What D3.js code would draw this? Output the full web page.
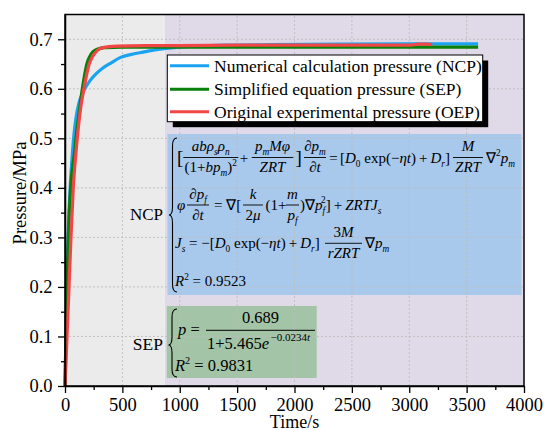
<!DOCTYPE html>
<html><head><meta charset="utf-8">
<script src="https://cdn.jsdelivr.net/npm/d3@7"></script>
<style>body{margin:0;background:#fff}svg{display:block}</style>
</head><body>
<svg id="c" width="544" height="430"></svg>
<script>
// ---- data ----
const ncpT = [0, 8, 18, 30, 45, 60, 75, 95, 120, 150, 180, 220, 270, 330, 400, 480, 570, 680, 800, 950, 1150, 1400, 1800, 2400, 3000, 3600];
const ncpP = [0, 0.10, 0.22, 0.32, 0.40, 0.455, 0.50, 0.54, 0.57, 0.59, 0.603, 0.617, 0.630, 0.642, 0.652, 0.663, 0.669, 0.674, 0.679, 0.683, 0.686, 0.688, 0.689, 0.690, 0.6905, 0.6905];
const sepT = [0, 17, 29, 49, 65, 83, 100, 122, 151, 170, 190, 215, 245, 280, 350, 500, 1000, 2000, 3000, 3600];
const sepP = [0, 0.20, 0.30, 0.40, 0.44, 0.47, 0.51, 0.55, 0.60, 0.627, 0.650, 0.665, 0.675, 0.680, 0.683, 0.684, 0.684, 0.684, 0.684, 0.684];
const oepT = [0, 35, 52, 72, 95, 120, 140, 165, 190, 211, 240, 280, 330, 450, 700, 1000, 1500, 2000, 2500, 3000, 3080, 3150, 3200];
const oepP = [0, 0.20, 0.30, 0.40, 0.47, 0.53, 0.567, 0.600, 0.630, 0.650, 0.665, 0.677, 0.683, 0.686, 0.687, 0.687, 0.688, 0.688, 0.688, 0.688, 0.690, 0.690, 0.689];
const xTicks = [0, 500, 1000, 1500, 2000, 2500, 3000, 3500, 4000];
const yTicks = [0.0, 0.1, 0.2, 0.3, 0.4, 0.5, 0.6, 0.7];
const xMinor = [250, 750, 1250, 1750, 2250, 2750, 3250, 3750];
const yMinor = [0.05, 0.15, 0.25, 0.35, 0.45, 0.55, 0.65];
const regionSplit = 870;
const seriesNames = ["Numerical calculation pressure (NCP)", "Simplified equation pressure (SEP)", "Original experimental pressure (OEP)"];
const seriesColors = ["#1aa3f0", "#0a800a", "#f24646"];

const FONT = "'Liberation Serif','Times New Roman',serif";
const svg = d3.select("#c");
const x = d3.scaleLinear().domain([0, 4000]).range([65, 524]);
const y = d3.scaleLinear().domain([0, 0.75]).range([386, 14.5]);

// backgrounds
svg.append("rect").attr("x", x(0)).attr("y", y(0.75)).attr("width", x(regionSplit) - x(0)).attr("height", y(0) - y(0.75)).attr("fill", "#ebebeb");
svg.append("rect").attr("x", x(regionSplit)).attr("y", y(0.75)).attr("width", x(4000) - x(regionSplit)).attr("height", y(0) - y(0.75)).attr("fill", "#e0d9e8");

// equation boxes
svg.append("rect").attr("x", 167.5).attr("y", 134).attr("width", 354).attr("height", 161).attr("fill", "#a8c8ec");
svg.append("rect").attr("x", 166.7).attr("y", 306).attr("width", 150).attr("height", 72).attr("fill", "#a3c4a6");

// grid
const grid = svg.append("g").attr("stroke", "#bdbdbd").attr("stroke-width", 0.9).attr("stroke-dasharray", "2,2");
xTicks.filter(t => t > 0 && t < 4000).forEach(t => grid.append("line").attr("x1", x(t)).attr("x2", x(t)).attr("y1", y(0)).attr("y2", y(0.75)));
yTicks.filter(t => t > 0).forEach(t => grid.append("line").attr("x1", x(0)).attr("x2", x(4000)).attr("y1", y(t)).attr("y2", y(t)));

// curves
const line = d3.line().x(d => x(d[0])).y(d => y(d[1])).curve(d3.curveMonotoneX);
const series = [[ncpT, ncpP], [sepT, sepP], [oepT, oepP]];
series.forEach((s, i) => {
  const pts = s[0].map((t, j) => [t, s[1][j]]);
  svg.append("path").attr("d", line(pts)).attr("fill", "none").attr("stroke", seriesColors[i]).attr("stroke-width", 3.2).attr("stroke-linejoin", "round");
});

// frame
svg.append("rect").attr("x", x(0)).attr("y", y(0.75)).attr("width", x(4000) - x(0)).attr("height", y(0) - y(0.75)).attr("fill", "none").attr("stroke", "#000").attr("stroke-width", 1.5);

// axes
function styleAxis(g) {
  g.selectAll("path").attr("stroke", "#000").attr("stroke-width", 1.5);
  g.selectAll("line").attr("stroke", "#000").attr("stroke-width", 1.3);
  g.selectAll("text").attr("font-family", FONT).attr("font-size", "18.5px").attr("fill", "#000");
}
const gx = svg.append("g").attr("transform", `translate(0,${y(0)})`)
  .call(d3.axisBottom(x).tickValues(xTicks).tickFormat(d3.format("d")).tickSize(7).tickSizeOuter(0).tickPadding(5));
styleAxis(gx);
const gxm = svg.append("g").attr("transform", `translate(0,${y(0)})`)
  .call(d3.axisBottom(x).tickValues(xMinor).tickFormat("").tickSize(4));
gxm.select(".domain").remove(); styleAxis(gxm);
const gy = svg.append("g").attr("transform", `translate(${x(0)},0)`)
  .call(d3.axisLeft(y).tickValues(yTicks).tickFormat(d3.format(".1f")).tickSize(7).tickSizeOuter(0).tickPadding(5.5));
styleAxis(gy);
const gym = svg.append("g").attr("transform", `translate(${x(0)},0)`)
  .call(d3.axisLeft(y).tickValues(yMinor).tickFormat("").tickSize(4));
gym.select(".domain").remove(); styleAxis(gym);

// axis titles
svg.append("text").attr("x", (x(0) + x(4000)) / 2).attr("y", 427.5).attr("text-anchor", "middle")
  .attr("font-family", FONT).attr("font-size", "18px").text("Time/s");
svg.append("text").attr("transform", "translate(26,193) rotate(-90)").attr("text-anchor", "middle")
  .attr("font-family", FONT).attr("font-size", "18.5px").text("Pressure/MPa");

// legend
const lg = svg.append("g");
lg.append("rect").attr("x", 172.8).attr("y", 60.5).attr("width", 315.4).attr("height", 66.7).attr("fill", "#000");
lg.append("rect").attr("x", 167.3).attr("y", 55).attr("width", 315.4).attr("height", 66.7).attr("fill", "#fff").attr("stroke", "#000").attr("stroke-width", 1);
const rowY = [65.7, 89.3, 111.7];
seriesNames.forEach((n, i) => {
  lg.append("line").attr("x1", 170).attr("x2", 209).attr("y1", rowY[i]).attr("y2", rowY[i]).attr("stroke", seriesColors[i]).attr("stroke-width", 3);
  lg.append("text").attr("x", 214).attr("y", rowY[i] + 6).attr("font-family", FONT).attr("font-size", "17.5px").text(n);
});

// ---- equations ----
const eq = svg.append("g").attr("fill", "#000");
function rich(g, xx, yy, parts, size, anchor) {
  const t = g.append("text").attr("x", xx).attr("y", yy).attr("font-size", size + "px")
    .attr("text-anchor", anchor || "start").attr("font-family", FONT).attr("xml:space", "preserve");
  let cur = 0;
  parts.forEach(p => {
    const txt = p[0], st = p[1], dx = p[2] || 0;
    let off = 0, fs = size;
    if (st.includes("_")) { off = size * 0.28; fs = size * 0.62; }
    if (st.includes("^")) { off = -size * 0.42; fs = size * 0.62; }
    const ts = t.append("tspan").attr("dy", off - cur).attr("font-size", fs + "px")
      .attr("font-style", st.includes("i") ? "italic" : "normal").text(txt);
    if (dx) ts.attr("dx", dx);
    cur = off;
  });
  return t;
}
function frac(g, cx, ly, x1, x2, num, den, size, nd, dd) {
  g.append("line").attr("x1", x1).attr("x2", x2).attr("y1", ly).attr("y2", ly).attr("stroke", "#000").attr("stroke-width", 0.9);
  rich(g, cx, ly - nd, num, size, "middle");
  rich(g, cx, ly + dd, den, size, "middle");
}
function brace(g, x0, x1, xc, top, mid, bot) {
  const r = 8;
  const d = `M${x0},${top} Q${x1},${top} ${x1},${top + r} L${x1},${mid - r} Q${x1},${mid} ${xc},${mid} Q${x1},${mid} ${x1},${mid + r} L${x1},${bot - r} Q${x1},${bot} ${x0},${bot}`;
  g.append("path").attr("d", d).attr("fill", "none").attr("stroke", "#000").attr("stroke-width", 1.1);
}
const S = 15, TS = "\u2009";
// NCP
rich(eq, 163, 220, [["NCP", "r"]], 17, "end");
brace(eq, 177, 172.5, 169, 138, 215, 292);
// row 1
let L = 157.5, B = 162.5;
rich(eq, 177, B + 1.5, [["[", "r"]], 19);
frac(eq, 210.7, L, 183.3, 238.3, [["ab", "i"], ["ρ", "i"], ["s", "i_"], ["ρ", "i"], ["n", "i_"]],
  [["(1+", "r"], ["bp", "i"], ["m", "i_"], [")", "r"], ["2", "r^"]], S, 6.5, 14.5);
rich(eq, 244, B, [["+", "r"]], S, "middle");
frac(eq, 272.5, L, 251.7, 293.3, [["p", "i"], ["m", "i_"], ["Mφ", "i"]], [["ZRT", "i"]], S, 6.5, 14.5);
rich(eq, 295.5, B + 1.5, [["]", "r"]], 19);
frac(eq, 315, L, 304, 326, [["∂p", "i"], ["m", "i_"]], [["∂t", "i"]], S, 6.5, 14.5);
rich(eq, 333.5, B, [["=", "r"]], S, "middle");
rich(eq, 340, B, [["[", "r"], ["D", "i"], ["0", "r_"], [" exp(−", "r"], ["ηt", "i"], [")" + TS + "+" + TS, "r"], ["D", "i"], ["r", "i_"], ["]", "r"]], S);
frac(eq, 468, L, 453, 483, [["M", "i"]], [["ZRT", "i"]], S, 6.5, 14.5);
rich(eq, 486, B, [["∇", "r"], ["2", "r^"], ["p", "i"], ["m", "i_"]], S);
// row 2
L = 205; B = 209.5;
rich(eq, 177, B, [["φ", "i"]], S);
frac(eq, 198, L, 187, 209, [["∂p", "i"], ["f", "i_"]], [["∂t", "i"]], S, 6.5, 14.5);
rich(eq, 214, B, [["= ∇[", "r"]], S);
frac(eq, 253, L, 243, 263, [["k", "i"]], [["2", "r"], ["μ", "i"]], S, 6.5, 14.5);
rich(eq, 265.5, B, [["(1+", "r"]], S);
frac(eq, 292.5, L, 286, 299, [["m", "i"]], [["p", "i"], ["f", "i_"]], S, 6.5, 14.5);
rich(eq, 300, B, [[")∇", "r"], ["p", "i"], ["f", "i_"], ["2", "r^", -4], ["]" + TS + "+" + TS, "r"], ["ZRTJ", "i"], ["s", "i_"]], S);
// row 3
L = 243.3; B = 248;
rich(eq, 175, B, [["J", "i"], ["s", "i_"], [" = −[", "r"], ["D", "i"], ["0", "r_"], [" exp(−", "r"], ["ηt", "i"], [")" + TS + "+" + TS, "r"], ["D", "i"], ["r", "i_"], ["]", "r"]], S);
frac(eq, 343.5, L, 325, 362, [["3", "r"], ["M", "i"]], [["rZRT", "i"]], S, 6.5, 14.5);
rich(eq, 365, B, [["∇", "r"], ["p", "i"], ["m", "i_"]], S);
// row 4
rich(eq, 175, 286.3, [["R", "i"], ["2", "r^"], [" = 0.9523", "r"]], S);

// SEP
const S2 = 16.5;
rich(eq, 163, 350, [["SEP", "r"]], 17.5, "end");
brace(eq, 177, 172, 168.5, 309, 345, 377);
rich(eq, 178, 335, [["p", "i"], [" =", "r"]], S2);
eq.append("line").attr("x1", 206).attr("x2", 315).attr("y1", 330.3).attr("y2", 330.3).attr("stroke", "#000").attr("stroke-width", 1);
rich(eq, 260.5, 323.3, [["0.689", "r"]], S2, "middle");
rich(eq, 207, 349, [["1+5.465", "r"], ["e", "i"]], S2);
rich(eq, 270.5, 340.5, [["−0.0234", "r"], ["t", "i"]], 11);
rich(eq, 175, 371, [["R", "i"], ["2", "r^"], [" = 0.9831", "r"]], S2);
</script>
</body></html>
